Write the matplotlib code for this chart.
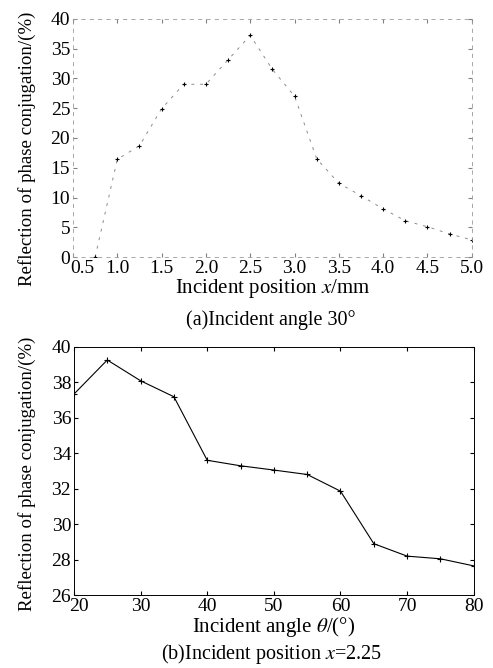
import matplotlib.pyplot as plt
import matplotlib.transforms as mtransforms

plt.rcParams['font.family'] = ['Liberation Serif', 'DejaVu Serif']
plt.rcParams['mathtext.fontset'] = 'stix'

# (a) incident angle 30 deg
pos_x = [0.75, 1.0, 1.25, 1.5, 1.75, 2.0, 2.25, 2.5, 2.75, 3.0, 3.25, 3.5, 3.75, 4.0, 4.25, 4.5, 4.75, 5.0]
refl_a = [0.0, 16.4, 18.7, 24.9, 29.0, 29.0, 33.1, 37.2, 31.5, 27.0, 16.5, 12.4, 10.3, 8.1, 6.1, 5.1, 3.9, 2.9]

# (b) incident position x = 2.25
angle = [20, 25, 30, 35, 40, 45, 50, 55, 60, 65, 70, 75, 80]
refl_b = [37.33, 39.25, 38.08, 37.18, 33.6, 33.29, 33.05, 32.8, 31.86, 28.9, 28.2, 28.05, 27.65]

fig = plt.figure(figsize=(4.93, 6.68), dpi=100)
ax1 = fig.add_axes([0.148, 0.615, 0.809, 0.357])
ax2 = fig.add_axes([0.150, 0.109, 0.811, 0.372])

# top panel is faint in the original scan
ax1.plot(pos_x, refl_a, color='0.55', lw=0.7, ls=(0, (3, 6)), marker='+', ms=3,
         mec='black', mew=0.8)
ax1.set_xlim(0.5, 5.0)
ax1.set_ylim(0, 40)
ax1.set_xticks([0.5, 1.0, 1.5, 2.0, 2.5, 3.0, 3.5, 4.0, 4.5, 5.0])
ax1.set_xticklabels(['%.1f' % v for v in ax1.get_xticks()])
ax1.set_yticks(range(0, 41, 5))
for s in ax1.spines.values():
    s.set_color('0.6')
    s.set_linestyle((0, (4, 6)))
    s.set_linewidth(0.6)
ax1.tick_params(direction='in', length=3, labelsize=14, color='0.5', pad=2,
                top=True, right=True)
ax1.set_xlabel('Incident position $x$/mm', fontsize=15, labelpad=0)
ax1.set_ylabel('Reflection of phase conjugation/(%)', fontsize=13.6, labelpad=1)
ax1.yaxis.set_label_coords(-0.093, 0.455)
fig.text(0.55, 0.521, '(a)Incident angle 30°', ha='center', va='center', fontsize=14.5)

ax2.plot(angle, refl_b, color='black', lw=0.8, marker='+', ms=4, mew=0.8)
ax2.set_xlim(20, 80)
ax2.set_ylim(26, 40)
ax2.set_xticks(range(20, 81, 10))
ax2.set_yticks(range(26, 41, 2))
for s in ax2.spines.values():
    s.set_linewidth(0.7)
ax2.tick_params(direction='in', length=3, labelsize=14, pad=2, top=True, right=True)
ax2.set_xlabel(r'Incident angle $\theta$/(°)', fontsize=15, labelpad=0)
ax2.set_ylabel('Reflection of phase conjugation/(%)', fontsize=13.6, labelpad=1)
ax2.yaxis.set_label_coords(-0.095, 0.49)
fig.text(0.55, 0.021, '(b)Incident position $x$=2.25', ha='center', va='center',
         fontsize=14.5)

# first x tick label sits a little right of its tick, clear of the corner "0"
fig.canvas.draw()
for ax, dx in ((ax1, 9), (ax2, 5)):
    lab = ax.get_xticklabels()[0]
    lab.set_transform(lab.get_transform() +
                      mtransforms.ScaledTranslation(dx / 100, 0, fig.dpi_scale_trans))

fig.savefig('out.png', dpi=100)
